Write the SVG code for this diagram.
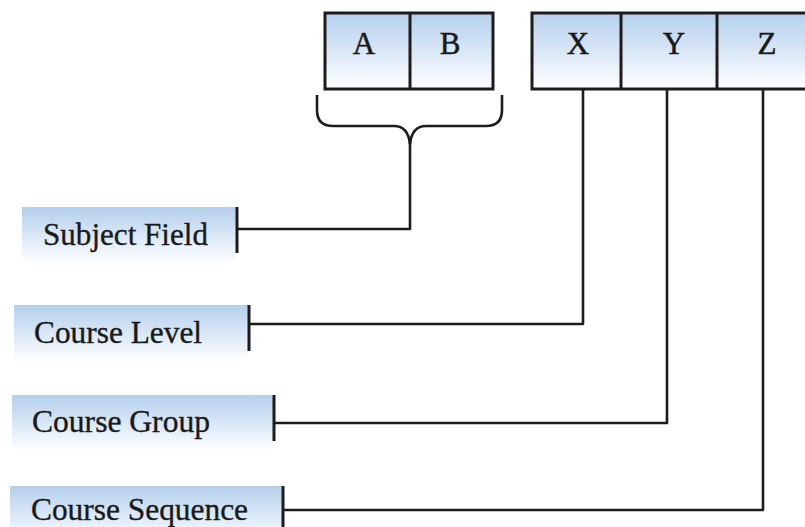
<svg xmlns="http://www.w3.org/2000/svg" width="805" height="527" viewBox="0 0 805 527">
  <defs>
    <linearGradient id="fade" x1="0" y1="0" x2="0" y2="1">
      <stop offset="0" stop-color="#b4cfec"/>
      <stop offset="0.5" stop-color="#d9e7f6"/>
      <stop offset="1" stop-color="#ffffff"/>
    </linearGradient>
    <style>
      .cell { fill: url(#fade); stroke: #1c1c1c; stroke-width: 3; }
      .div { stroke: #1c1c1c; stroke-width: 3; fill: none; }
      .band { fill: url(#fade); }
      .tick { stroke: #1c1c1c; stroke-width: 3; fill: none; }
      .wire { stroke: #1c1c1c; stroke-width: 2.6; fill: none; stroke-linejoin: round; }
      .letter { font-family: "Liberation Serif", "Times New Roman", serif; font-size: 31px; fill: #1a1a1a; stroke: #1a1a1a; stroke-width: 0.5; text-anchor: middle; }
      .label { font-family: "Liberation Serif", "Times New Roman", serif; font-size: 31px; fill: #1a1a1a; stroke: #1a1a1a; stroke-width: 0.35; }
    </style>
  </defs>
  <rect width="805" height="527" fill="#ffffff"/>

  <!-- code fields AB -->
  <g id="field-ab">
    <rect class="cell" x="325" y="13" width="168" height="76"/>
    <line class="div" x1="410" y1="13" x2="410" y2="89"/>
    <text class="letter" x="364" y="54">A</text>
    <text class="letter" x="450" y="54">B</text>
  </g>

  <!-- code fields XYZ -->
  <g id="field-xyz">
    <rect class="cell" x="532" y="13" width="280" height="76"/>
    <line class="div" x1="621" y1="13" x2="621" y2="89"/>
    <line class="div" x1="717" y1="13" x2="717" y2="89"/>
    <text class="letter" x="578" y="54">X</text>
    <text class="letter" x="674" y="54">Y</text>
    <text class="letter" x="767" y="54">Z</text>
  </g>

  <!-- labels -->
  <g id="subject-field">
    <rect class="band" x="22" y="207" width="214" height="56"/>
    <line class="tick" x1="237" y1="207" x2="237" y2="253"/>
    <text class="label" x="43" y="245" textLength="165" lengthAdjust="spacingAndGlyphs">Subject Field</text>
  </g>
  <g id="course-level">
    <rect class="band" x="14" y="305" width="234" height="56"/>
    <line class="tick" x1="249" y1="305" x2="249" y2="351"/>
    <text class="label" x="34" y="343" textLength="168" lengthAdjust="spacingAndGlyphs">Course Level</text>
  </g>
  <g id="course-group">
    <rect class="band" x="12" y="395" width="261" height="56"/>
    <line class="tick" x1="274" y1="395" x2="274" y2="441"/>
    <text class="label" x="32" y="432" textLength="178" lengthAdjust="spacingAndGlyphs">Course Group</text>
  </g>
  <g id="course-sequence">
    <rect class="band" x="10" y="486" width="272" height="56"/>
    <line class="tick" x1="283" y1="486" x2="283" y2="532"/>
    <text class="label" x="31" y="520" textLength="217" lengthAdjust="spacingAndGlyphs">Course Sequence</text>
  </g>

  <!-- connectors -->
  <g id="connectors">
    <!-- brace under A/B -->
    <path class="wire" d="M317 95 V110 Q317 126 333 126 H394 Q408 126 410 144 Q412 126 426 126 H486 Q502 126 502 110 V95"/>
    <path class="wire" d="M410 140 V229 H237"/>
    <path class="wire" d="M583 89 V324 H249"/>
    <path class="wire" d="M667 89 V423 H274"/>
    <path class="wire" d="M763 89 V510 H283"/>
  </g>
</svg>
